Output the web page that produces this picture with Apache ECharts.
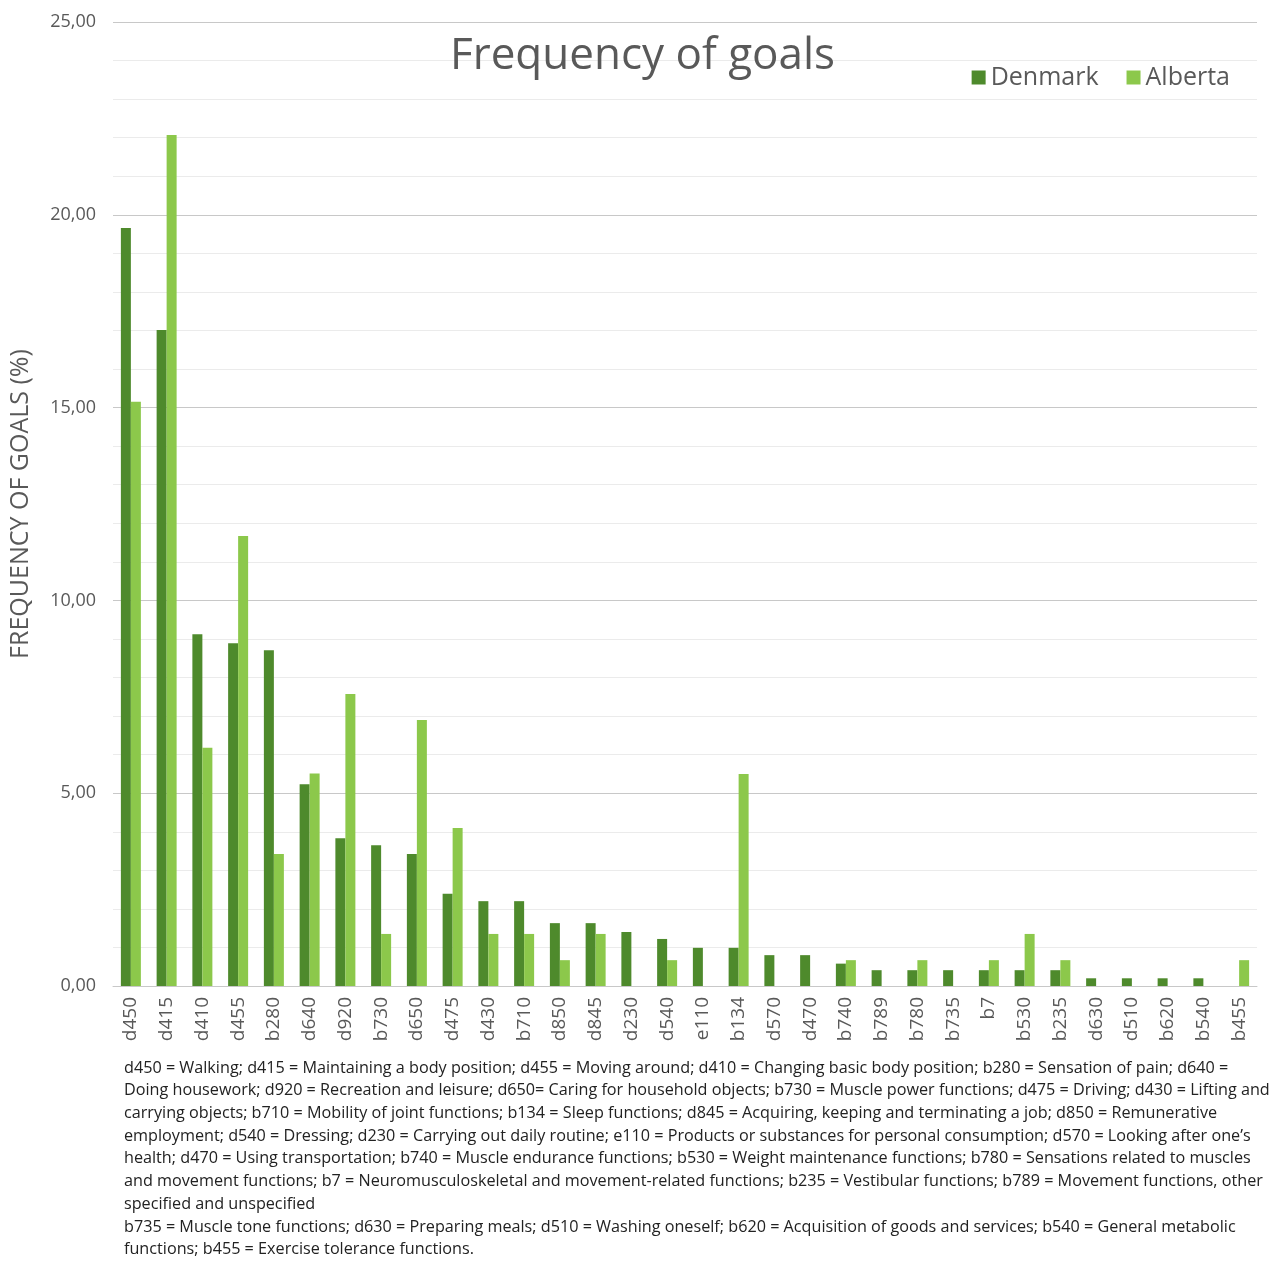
<!DOCTYPE html>
<html>
<head>
<meta charset="utf-8">
<script src="https://cdn.jsdelivr.net/npm/echarts@6/dist/echarts.min.js"></script>
<style>
  html, body { margin: 0; padding: 0; background: #fff; }
  #main { width: 1285px; height: 1261px; }
</style>
</head>
<body>
<div id="main"></div>
<script>
// 数据
var categories = ['d450', 'd415', 'd410', 'd455', 'b280', 'd640', 'd920', 'b730', 'd650', 'd475',
    'd430', 'b710', 'd850', 'd845', 'd230', 'd540', 'e110', 'b134', 'd570', 'd470',
    'b740', 'b789', 'b780', 'b735', 'b7', 'b530', 'b235', 'd630', 'd510', 'b620', 'b540', 'b455'];
var denmark = [19.66, 17.01, 9.12, 8.89, 8.71, 5.23, 3.83, 3.65, 3.42, 2.39,
    2.20, 2.20, 1.63, 1.63, 1.40, 1.22, 0.99, 0.99, 0.80, 0.80,
    0.58, 0.41, 0.41, 0.41, 0.41, 0.41, 0.41, 0.20, 0.20, 0.20, 0.20, 0];
var alberta = [15.15, 22.07, 6.18, 11.67, 3.42, 5.51, 7.57, 1.35, 6.90, 4.10,
    1.35, 1.35, 0.67, 1.35, 0, 0.67, 0, 5.50, 0, 0,
    0.67, 0, 0.67, 0, 0.67, 1.35, 0.67, 0, 0, 0, 0, 0.67];
var yTicks = [0, 5, 10, 15, 20, 25];

var footnote = [
    'd450 = Walking; d415 = Maintaining a body position; d455 = Moving around; d410 = Changing basic body position; b280 = Sensation of pain; d640 =',
    'Doing housework; d920 = Recreation and leisure; d650= Caring for household objects; b730 = Muscle power functions; d475 = Driving; d430 = Lifting and',
    'carrying objects; b710 = Mobility of joint functions; b134 = Sleep functions; d845 = Acquiring, keeping and terminating a job; d850 = Remunerative',
    'employment; d540 = Dressing; d230 = Carrying out daily routine; e110 = Products or substances for personal consumption; d570 = Looking after one\u2019s',
    'health; d470 = Using transportation; b740 = Muscle endurance functions; b530 = Weight maintenance functions; b780 = Sensations related to muscles',
    'and movement functions; b7 = Neuromusculoskeletal and movement-related functions; b235 = Vestibular functions; b789 = Movement functions, other',
    'specified and unspecified',
    'b735 = Muscle tone functions; d630 = Preparing meals; d510 = Washing oneself; b620 = Acquisition of goods and services; b540 = General metabolic',
    'functions; b455 = Exercise tolerance functions.'
];

var myChart = echarts.init(document.getElementById('main'));

var noteElements = footnote.map(function (line, i) {
    return {
        type: 'text',
        left: 124,
        top: 1060 + i * 22.7,
        style: {
            text: line,
            font: '16.2px "Open Sans"',
            fill: '#222'
        }
    };
});

var option = {
    backgroundColor: '#fff',
    animation: false,
    textStyle: { fontFamily: 'Open Sans' },
    title: {
        text: 'Frequency of goals',
        left: 'center',
        top: 29,
        textStyle: { fontSize: 44, fontWeight: 'normal', color: '#595959', fontFamily: 'Open Sans' }
    },
    legend: {
        data: ['Denmark', 'Alberta'],
        right: 50,
        top: 60,
        itemWidth: 14,
        itemHeight: 14,
        itemGap: 28,
        icon: 'rect',
        textStyle: { fontSize: 25, color: '#595959' }
    },
    grid: {
        left: 113,
        right: 28,
        top: 22,
        bottom: 275
    },
    xAxis: {
        type: 'category',
        data: categories,
        axisLine: { lineStyle: { color: '#c8c8c8' } },
        axisTick: { show: false },
        axisLabel: {
            rotate: 90,
            interval: 0,
            fontSize: 19,
            color: '#595959',
            margin: 11
        }
    },
    yAxis: {
        type: 'value',
        min: 0,
        max: 25,
        interval: 5,
        name: 'FREQUENCY OF GOALS (%)',
        nameLocation: 'middle',
        nameGap: 80,
        nameTextStyle: { fontSize: 25, color: '#595959' },
        axisLine: { show: false },
        axisTick: { show: false },
        axisLabel: {
            fontSize: 18,
            color: '#595959',
            margin: 17,
            formatter: function (v) {
                return yTicks.indexOf(v) >= 0 ? v.toFixed(2).replace('.', ',') : '';
            }
        },
        splitLine: { lineStyle: { color: '#c8c8c8', width: 1 } },
        minorTick: { show: false, splitNumber: 5 },
        minorSplitLine: { show: true, lineStyle: { color: '#ebebeb', width: 1 } }
    },
    series: [
        {
            name: 'Denmark',
            type: 'bar',
            data: denmark,
            barWidth: 10,
            barGap: '0%',
            itemStyle: { color: '#4e8a2c' }
        },
        {
            name: 'Alberta',
            type: 'bar',
            data: alberta,
            barWidth: 10,
            itemStyle: { color: '#8cc84b' }
        }
    ],
    graphic: noteElements
};

myChart.setOption(option);
</script>
</body>
</html>
